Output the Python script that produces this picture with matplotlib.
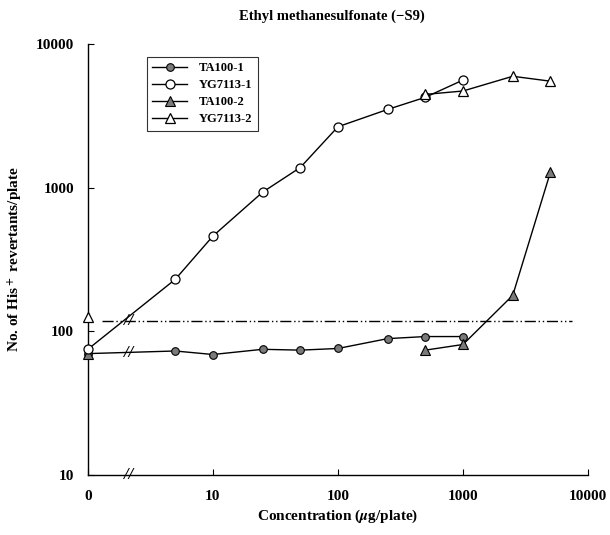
import numpy as np
import matplotlib
matplotlib.use('Agg')
import matplotlib.pyplot as plt

plt.rcParams['font.family'] = ['Liberation Serif', 'DejaVu Serif']
plt.rcParams['font.weight'] = 'bold'
plt.rcParams['mathtext.fontset'] = 'stix'

# dose 0 is drawn at the position of 1 on the log axis (broken axis)
ZERO = 1.0

# series 1
dose_1 = [0, 5, 10, 25, 50, 100, 250, 500, 1000]
ta100_1 = [70, 73, 69, 75, 74, 76, 89, 92, 92]
yg7113_1 = [75, 230, 460, 930, 1380, 2650, 3500, 4250, 5600]

# series 2
dose_2 = [0, 500, 1000, 2500, 5000]
ta100_2 = [70, 74, 81, 178, 1280]
yg7113_2 = [126, 4450, 4700, 5950, 5500]

spont_level = 118
spont_range = [1.3, 7400]

xticks = [1, 10, 100, 1000, 10000]
xtick_labels = ['0', '10', '100', '1000', '10000']
yticks = [10, 100, 1000, 10000]
ytick_labels = ['10', '100', '1000', '10000']


def xpos(d):
    return [ZERO if v == 0 else v for v in d]


fig = plt.figure(figsize=(6.10, 5.35), dpi=100)
ax = fig.add_axes([0.144, 0.112, 0.82, 0.806])
ax.set_xscale('log')
ax.set_yscale('log')
ax.set_xlim(1, 10000)
ax.set_ylim(10, 10000)

gray = '#7a7a7a'
lw = 1.0
ax.plot(xpos(dose_1), ta100_1, '-o', color='black', lw=lw, ms=5.5,
        mfc=gray, mec='black', mew=0.8, label='TA100-1', clip_on=False, zorder=4)
ax.plot(xpos(dose_1), yg7113_1, '-o', color='black', lw=lw, ms=6.5,
        mfc='white', mec='black', mew=0.9, label='YG7113-1', clip_on=False, zorder=5)
ax.plot(xpos(dose_2[1:]), ta100_2[1:], '-^', color='black', lw=lw, ms=6.5,
        mfc=gray, mec='black', mew=0.8, label='TA100-2', clip_on=False, zorder=4)
ax.plot(xpos(dose_2[1:]), yg7113_2[1:], '-^', color='black', lw=lw, ms=7.5,
        mfc='white', mec='black', mew=0.9, label='YG7113-2', clip_on=False, zorder=5)
# dose 0 points of series 2
ax.plot([ZERO], ta100_2[:1], '^', ms=6.5, mfc=gray, mec='black', mew=0.8,
        clip_on=False, zorder=4)
ax.plot([ZERO], yg7113_2[:1], '^', ms=7.5, mfc='white', mec='black', mew=0.9,
        clip_on=False, zorder=5)

# spontaneous revertant level
ax.plot(spont_range, [spont_level, spont_level], color='black', lw=1.0,
        dashes=(8, 2, 1, 2, 1, 2))

# axis break marks
brk_x = 2.1
for yv in [10, 71, spont_level]:
    ax.text(brk_x, yv, '//', ha='center', va='center', fontsize=12,
            style='italic', fontweight='bold', zorder=6)

ax.spines['top'].set_visible(False)
ax.spines['right'].set_visible(False)
ax.spines['left'].set_linewidth(1.0)
ax.spines['bottom'].set_linewidth(1.0)

ax.set_xticks(xticks)
ax.set_xticklabels(xtick_labels)
ax.set_yticks(yticks)
ax.set_yticklabels(ytick_labels)
ax.minorticks_off()
ax.tick_params(axis='both', direction='in', length=4, width=0.8, labelsize=11)
ax.tick_params(axis='y', pad=10)
ax.tick_params(axis='x', pad=11)

ax.set_xlabel('Concentration ($\\mathit{\\mu}$g/plate)', fontsize=11, fontweight='bold', labelpad=3)
ax.set_ylabel('No. of His$^{\\bf +}$ revertants/plate', fontsize=11, fontweight='bold', labelpad=8)
ax.set_title('Ethyl methanesulfonate (\u2212S9)', fontsize=10.5, fontweight='bold',
             pad=17, x=0.487)

leg = ax.legend(loc='upper left', bbox_to_anchor=(0.105, 0.985), frameon=True,
                fancybox=False, edgecolor='black', fontsize=9, handlelength=2.8,
                borderpad=0.45, labelspacing=0.4, handletextpad=0.9)
leg.get_frame().set_linewidth(0.8)

fig.savefig('out.png', dpi=100)
